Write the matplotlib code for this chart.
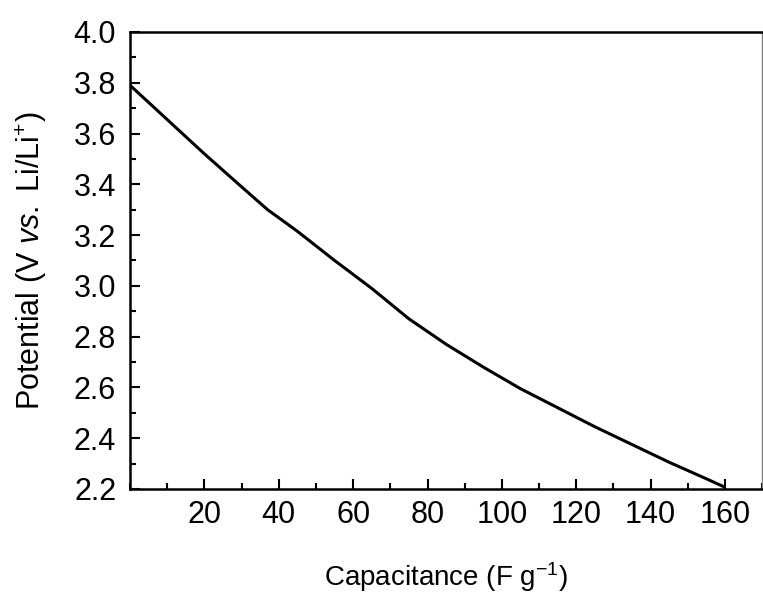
import matplotlib
matplotlib.use('Agg')
import matplotlib.pyplot as plt
from matplotlib.ticker import MultipleLocator

plt.rcParams['font.family'] = ['Liberation Sans', 'DejaVu Sans']
plt.rcParams['mathtext.fontset'] = 'custom'
plt.rcParams['mathtext.rm'] = 'Liberation Sans'
plt.rcParams['mathtext.it'] = 'Liberation Sans:italic'

# discharge curve
capacitance = [0, 10, 20, 30, 37, 45, 55, 65, 75, 85, 95, 105, 115, 125,
               135, 145, 155, 159.5]
potential = [3.79, 3.655, 3.52, 3.39, 3.30, 3.215, 3.10, 2.99, 2.87, 2.77,
             2.68, 2.595, 2.52, 2.445, 2.375, 2.305, 2.24, 2.21]

x_ticks = [20, 40, 60, 80, 100, 120, 140, 160]
y_ticks = [2.2, 2.4, 2.6, 2.8, 3.0, 3.2, 3.4, 3.6, 3.8, 4.0]

fig = plt.figure(figsize=(7.63, 6.01), dpi=100)
ax = fig.add_axes([0.1704, 0.1864, 0.8286, 0.7604])

ax.plot(capacitance, potential, color='black', lw=2.2)

ax.set_xlim(0, 170)
ax.set_ylim(2.2, 4.0)
ax.xaxis.set_minor_locator(MultipleLocator(10))
ax.yaxis.set_minor_locator(MultipleLocator(0.1))
ax.set_xticks(x_ticks)
ax.set_yticks(y_ticks)
ax.set_yticklabels(['%.1f' % v for v in y_ticks])

ax.tick_params(which='both', direction='in', width=1.5, labelsize=22,
               top=False, right=False)
ax.tick_params(which='major', length=7)
ax.tick_params(which='minor', length=4)
ax.tick_params(axis='x', pad=8)
ax.tick_params(axis='y', pad=10)

for s in ['left', 'bottom', 'top']:
    ax.spines[s].set_linewidth(1.8)
ax.spines['right'].set_linewidth(1)
ax.spines['right'].set_color('grey')

ax.set_xlabel('Capacitance (F g$^{-1}$)', fontsize=20, labelpad=22)
ax.set_ylabel('Potential (V $\\mathit{vs.}$ Li/Li$^{+}$)', fontsize=22, labelpad=18)

fig.savefig('out.png', dpi=100)
